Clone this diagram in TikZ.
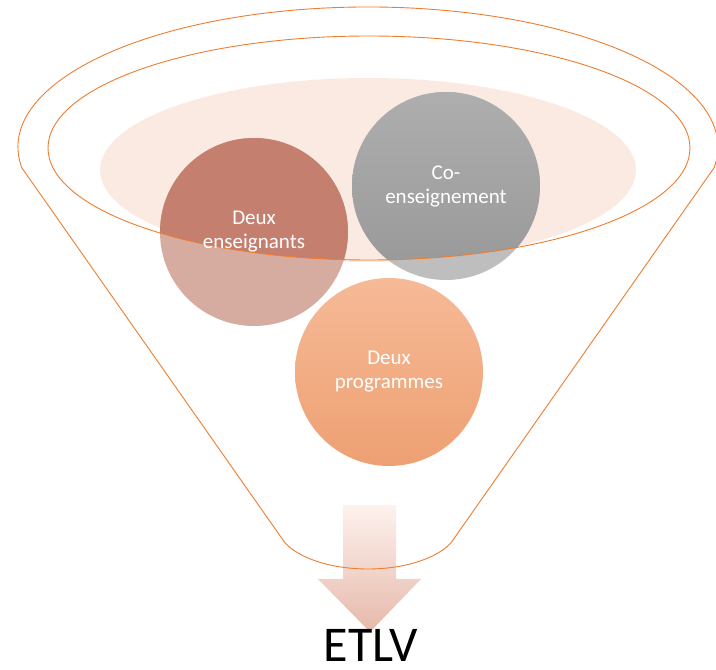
\documentclass[tikz,border=0pt]{standalone}
\usepackage{fontspec}
\setmainfont{Carlito}
\definecolor{funnelorange}{RGB}{237,125,49}
\definecolor{pinkbg}{RGB}{251,234,226}
\definecolor{deDark}{RGB}{197,127,111}
\definecolor{deLight}{RGB}{214,172,160}
\definecolor{grTop}{RGB}{174,174,174}
\definecolor{grBot}{RGB}{152,152,152}
\definecolor{grLight}{RGB}{190,190,190}
\definecolor{orTop}{RGB}{246,186,151}
\definecolor{orBot}{RGB}{238,160,114}
\definecolor{arTop}{RGB}{253,242,238}
\definecolor{arBot}{RGB}{230,185,170}
\tikzset{
  bubble/.style={circle, minimum size=188pt, inner sep=0pt, draw=none},
  bubbletext/.style={text=white, font=\fontsize{21}{24}\selectfont, align=center},
  funnelline/.style={draw=funnelorange, line width=0.9pt}
}
\begin{document}
\begin{tikzpicture}[x=1pt,y=1pt]
\useasboundingbox (0,0) rectangle (716,670);
% light pink ellipse
\fill[pinkbg] (368,500) ellipse [x radius=268, y radius=92];
% bubbles (light lower parts)
\node[bubble, fill=deLight] (de) at (254,438) {};
\node[bubble, fill=grLight] (co) at (446,484) {};
\node[bubble, top color=orTop, bottom color=orBot] (dp) at (389,298) {};
% darker parts inside the inner ellipse
\begin{scope}
  \clip (369,522) ellipse [x radius=321, y radius=112];
  \fill[deDark] (de.center) circle (94);
  \shade[top color=grTop, bottom color=grBot] (co.center) circle (94);
\end{scope}
% arrow
\shade[top color=arTop, bottom color=arBot]
  (343,165) -- (396,165) -- (396,91) -- (421,91) -- (370,38) -- (318,91) -- (343,91) -- cycle;
% funnel outline
\draw[funnelline] (21.9,502.1) arc[start angle=188.6, end angle=-8.6, x radius=350, y radius=140]
  -- (453,130) .. controls (444,116) and (412,101) .. (368,101)
  .. controls (324,101) and (292,116) .. (283,130) -- cycle;
% inner ellipse
\draw[funnelline] (369,522) ellipse [x radius=321, y radius=112];
% texts
\node[bubbletext] (det) at (de.center) {Deux\\enseignants};
\node[bubbletext] (cot) at (co.center) {Co-\\enseignement};
\node[bubbletext] (dpt) at (dp.center) {Deux\\programmes};
\node[anchor=base, font=\fontsize{50}{60}\selectfont, inner sep=0pt] (etlv) at (371,8) {ETLV};
\end{tikzpicture}
\end{document}
